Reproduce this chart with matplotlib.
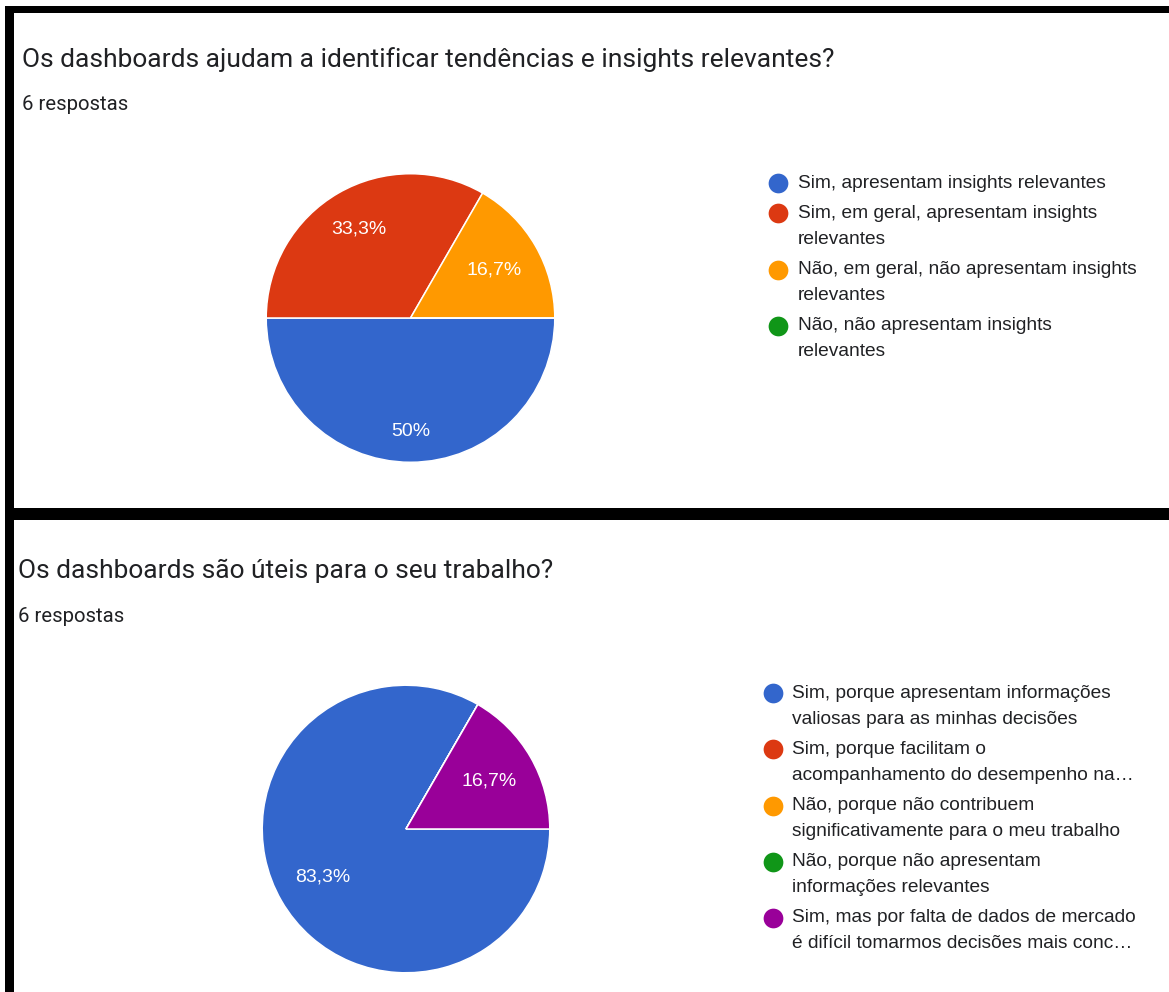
import matplotlib
matplotlib.use("Agg")
import matplotlib.pyplot as plt
from matplotlib.patches import Rectangle
import numpy as np

W, H = 1169, 992

# --- survey data -----------------------------------------------------------
q1_title = "Os dashboards ajudam a identificar tendências e insights relevantes?"
q1_count = "6 respostas"
q1_labels = [
    "Sim, apresentam insights relevantes",
    "Sim, em geral, apresentam insights\nrelevantes",
    "Não, em geral, não apresentam insights\nrelevantes",
    "Não, não apresentam insights\nrelevantes",
]
q1_values = [3, 2, 1, 0]
q1_colors = ["#3366cc", "#dc3912", "#ff9900", "#109618"]

q2_title = "Os dashboards são úteis para o seu trabalho?"
q2_count = "6 respostas"
q2_labels = [
    "Sim, porque apresentam informações\nvaliosas para as minhas decisões",
    "Sim, porque facilitam o\nacompanhamento do desempenho na…",
    "Não, porque não contribuem\nsignificativamente para o meu trabalho",
    "Não, porque não apresentam\ninformações relevantes",
    "Sim, mas por falta de dados de mercado\né difícil tomarmos decisões mais conc…",
]
q2_values = [5, 0, 0, 0, 1]
q2_colors = ["#3366cc", "#dc3912", "#ff9900", "#109618", "#990099"]

TEXT = "#202124"
TITLE_FONT = "Roboto"
BODY_FONT = "Liberation Sans"

fig = plt.figure(figsize=(W / 100, H / 100), dpi=100)
fig.patch.set_facecolor("white")

# full-figure overlay in pixel coordinates (y grows downward)
ov = fig.add_axes([0, 0, 1, 1])
ov.set_xlim(0, W)
ov.set_ylim(H, 0)
ov.axis("off")

# panel frames
for (x0, y0, w, h) in [(5, 6, W - 5, 6.5), (5, 6, 8.5, H - 6), (5, 508, W - 5, 12)]:
    ov.add_patch(Rectangle((x0, y0), w, h, facecolor="black", edgecolor="none"))


def fmt_pct(v, total):
    p = 100.0 * v / total
    s = f"{p:.1f}".replace(".", ",")
    if s.endswith(",0"):
        s = s[:-2]
    return s + "%"


def draw_question(title, count, labels, values, colors, tx, ty, cx, cy, r,
                  lx, ly_list, label_r):
    ov.text(tx, ty, title, fontsize=19.0, family=TITLE_FONT, color=TEXT,
            va="center", ha="left")
    ov.text(tx, ty + 45, count, fontsize=14.6, family=TITLE_FONT, color=TEXT,
            va="center", ha="left")

    ax = fig.add_axes([(cx - r) / W, (H - cy - r) / H, 2 * r / W, 2 * r / H])
    vals = np.array(values, dtype=float)
    wedges, _ = ax.pie(vals, colors=colors, startangle=0, counterclock=False,
                       radius=1.0,
                       wedgeprops=dict(edgecolor="white", linewidth=1.1))
    ax.set_xlim(-1.005, 1.005)
    ax.set_ylim(-1.005, 1.005)
    ax.set_aspect("equal")
    ax.axis("off")

    total = vals.sum()
    k = 0
    for wdg, v in zip(wedges, vals):
        if v <= 0:
            continue
        mid = np.deg2rad(0.5 * (wdg.theta1 + wdg.theta2))
        rr = label_r[k]
        k += 1
        ax.text(rr * np.cos(mid), rr * np.sin(mid), fmt_pct(v, total),
                color="white", fontsize=14, family=BODY_FONT,
                ha="center", va="center")

    # legend
    for lab, col, ly in zip(labels, colors, ly_list):
        ov.plot([lx], [ly], marker="o", markersize=14.2, color=col,
                markeredgewidth=0, linestyle="none")
        for i, line in enumerate(lab.split("\n")):
            ov.text(lx + 19.5, ly + 26 * i, line, fontsize=13.75,
                    family=BODY_FONT, color=TEXT, ha="left", va="center")


draw_question(q1_title, q1_count, q1_labels, q1_values, q1_colors,
              22, 60, 410.5, 318, 145,
              778, [183, 213, 270, 326], [0.79, 0.71, 0.67])
draw_question(q2_title, q2_count, q2_labels, q2_values, q2_colors,
              18, 571, 406, 829, 144.5,
              773, [693, 749, 806, 862, 918], [0.67, 0.67])

fig.savefig("out.png", dpi=100, facecolor="white")
